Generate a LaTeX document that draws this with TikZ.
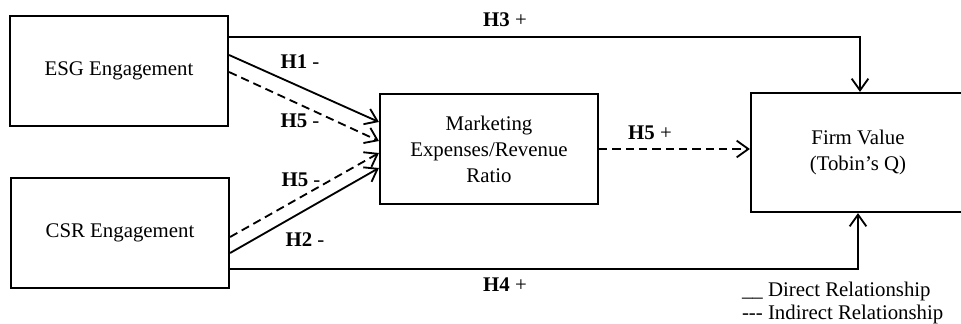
\documentclass[tikz,border=0pt]{standalone}
\usepackage{fontspec}
\setmainfont{Liberation Serif}
\usepackage{tikz}
\usetikzlibrary{arrows.meta}

\begin{document}
\begin{tikzpicture} [x=0.6pt, y=0.6pt,
					font = \fontsize{12.5}{15.6}\selectfont,
					box/.style = {draw,
					    rectangle,
					    line width = 1.3pt,
					    minimum width = 130.8pt,
					    minimum height = 66pt,
					    align = center},
					dirline/.style = {line width = 1.1pt,
					    -{Straight Barb[length=7pt, width=10pt]}},
					indline/.style = {dirline,
					    dash pattern = on 5pt off 3pt},
					hyp/.style = {inner sep = 1pt}]
					\useasboundingbox (0,0) rectangle (961,323);

					\node (esg) at (119,252) [box] {ESG Engagement};
					\node (csr) at (120,90) [box] {CSR Engagement};
					\node (mer) at (489,174) [box] {Marketing\\Expenses/Revenue\\Ratio};
					\node (fv) at (858,170.5) [box, minimum width = 128.4pt, minimum height = 71.4pt] {Firm Value\\(Tobin's Q)};

					\draw [dirline] ([yshift=20.4pt]esg.east) -| ([xshift=1.2pt]fv.north);
					\draw [dirline] ([yshift=9.6pt]esg.east) -- ([yshift=16.2pt]mer.west);
					\draw [indline] ([yshift=-0.6pt]esg.east) -- ([yshift=4.8pt]mer.west);
					\draw [indline] ([yshift=-2.4pt]csr.east) -- ([yshift=-2.4pt]mer.west);
					\draw [dirline] ([yshift=-12pt]csr.east) -- ([yshift=-11.4pt]mer.west);
					\draw [indline] (mer.east) -- (mer.east -| fv.west);
					\draw [dirline] ([yshift=-21.6pt]csr.east) -| (fv.south);

					\node (h3) at (505,303) [hyp] {\textbf{H3} +};
					\node (h1) at (300,261) [hyp] {\textbf{H1} -};
					\node (h5a) at (300,202) [hyp] {\textbf{H5} -};
					\node (h5b) at (301,143) [hyp] {\textbf{H5} -};
					\node (h2) at (305,83) [hyp] {\textbf{H2} -};
					\node (h5c) at (650,190) [hyp] {\textbf{H5} +};
					\node (h4) at (505,38) [hyp] {\textbf{H4} +};

					\node (ldir) at (740,32) [hyp, anchor = west] {\_\_ Direct Relationship};
					\node (lind) at (740,9) [hyp, anchor = west] {-{}-{}- Indirect Relationship};
				\end{tikzpicture}
\end{document}
